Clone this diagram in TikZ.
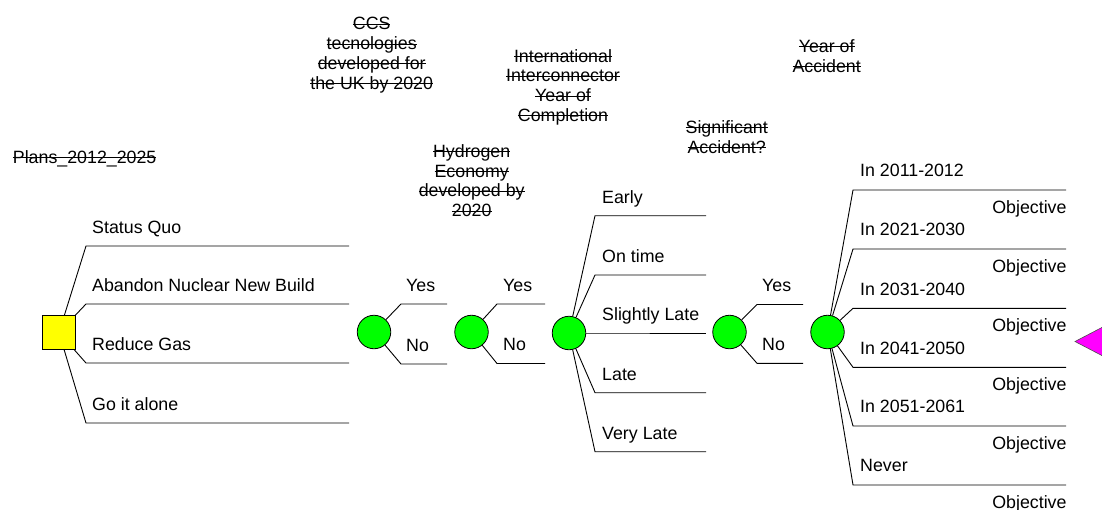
\documentclass[tikz,border=0pt]{standalone}
\usepackage{fontspec}
\setmainfont{Liberation Sans}
\definecolor{dgreen}{HTML}{00FF00}
\definecolor{dyellow}{HTML}{FFFF00}
\definecolor{dmagenta}{HTML}{FF00FF}
\newcommand\dtfont{\fontsize{17.8}{19.8}\selectfont}
\newsavebox\stkbox
\newcommand\stk[1]{\leavevmode\sbox\stkbox{#1}\rlap{\rule[0.3em]{\wd\stkbox}{0.8pt}}\usebox\stkbox}
\begin{document}
\begin{tikzpicture}[x=1pt,y=-1pt,
  dnode/.style={draw, fill=dyellow, minimum size=33.5pt, inner sep=0pt, line width=0.8pt},
  cnode/.style={circle, draw, fill=dgreen, minimum size=33.5pt, inner sep=0pt, line width=0.8pt},
  branch/.style={line width=0.9pt},
  lbl/.style={anchor=base west, inner sep=0pt, font=\dtfont},
  obj/.style={anchor=base east, inner sep=0pt, font=\dtfont},
  ttl/.style={anchor=base, align=center, inner sep=0pt, font=\dtfont}]
\useasboundingbox (0,0) rectangle (1102,509);

% titles (anchor = baseline of last line)
\node[lbl] (t0) at (12.7,163.3) {\stk{Plans\_2012\_2025}};
\node[ttl] (t1) at (371.7,89.3) {\stk{CCS}\\\stk{tecnologies}\\\stk{developed for}\\\stk{the UK by 2020}};
\node[ttl] (t2) at (471.7,216.7) {\stk{Hydrogen}\\\stk{Economy}\\\stk{developed by}\\\stk{2020}};
\node[ttl] (t3) at (563,121.5) {\stk{International}\\\stk{Interconnector}\\\stk{Year of}\\\stk{Completion}};
\node[ttl] (t4) at (726.7,153.3) {\stk{Significant}\\\stk{Accident?}};
\node[ttl] (t5) at (826.7,72) {\stk{Year of}\\\stk{Accident}};

% nodes
\node[dnode] (plan) at (59,332.5) {};
\node[cnode] (c1) at (374,332) {};
\node[cnode] (c2) at (471.5,332) {};
\node[cnode] (c3) at (569,333) {};
\node[cnode] (c4) at (729.5,332) {};
\node[cnode] (c5) at (827.5,332) {};

% decision branches
\foreach \i/\y/\t in {1/246/Status Quo, 2/304/Abandon Nuclear New Build, 3/363/Reduce Gas, 4/423/Go it alone}{
  \coordinate (ps\i) at (86,\y);
  \coordinate (pe\i) at (349,\y);
  \draw[branch] (plan) -- (ps\i) -- (pe\i);
  \node[lbl] (pl\i) at (92,\y-12.8) {\t};
}

% chance node 1
\foreach \i/\y/\t in {1/304/Yes, 2/364/No}{
  \coordinate (as\i) at (401,\y);
  \coordinate (ae\i) at (447,\y);
  \draw[branch] (c1) -- (as\i) -- (ae\i);
  \node[lbl] (al\i) at (406,\y-13) {\t};
}

% chance node 2
\foreach \i/\y/\t in {1/304/Yes, 2/363.5/No}{
  \coordinate (bs\i) at (497,\y);
  \coordinate (be\i) at (545,\y);
  \draw[branch] (c2) -- (bs\i) -- (be\i);
  \node[lbl] (bl\i) at (503,\y-13) {\t};
}

% chance node 3
\foreach \i/\y/\t in {1/215.7/Early, 2/275/On time, 3/333/Slightly Late, 4/392.7/Late, 5/451.7/Very Late}{
  \coordinate (cs\i) at (595,\y);
  \coordinate (ce\i) at (706,\y);
  \draw[branch] (c3) -- (cs\i) -- (ce\i);
  \node[lbl] (cl\i) at (602,\y-12.6) {\t};
}

% chance node 4
\foreach \i/\y/\t in {1/304.5/Yes, 2/363.3/No}{
  \coordinate (ds\i) at (757,\y);
  \coordinate (de\i) at (803,\y);
  \draw[branch] (c4) -- (ds\i) -- (de\i);
  \node[lbl] (dl\i) at (762,\y-13) {\t};
}

% chance node 5
\foreach \i/\y/\t in {1/190/In 2011-2012, 2/249/In 2021-2030, 3/308.3/In 2031-2040, 4/367.3/In 2041-2050, 5/426/In 2051-2061, 6/485/Never}{
  \coordinate (es\i) at (853,\y);
  \coordinate (ee\i) at (1066,\y);
  \draw[branch] (c5) -- (es\i) -- (ee\i);
  \node[lbl] (el\i) at (860,\y-13.3) {\t};
  \node[obj] (eo\i) at (1066.7,\y+23.3) {Objective};
}

% objective (value) node
\filldraw[fill=dmagenta, draw=black!70, line width=0.6pt] (1075,341.5) -- (1122,317) -- (1122,366) -- cycle;
\end{tikzpicture}
\end{document}
